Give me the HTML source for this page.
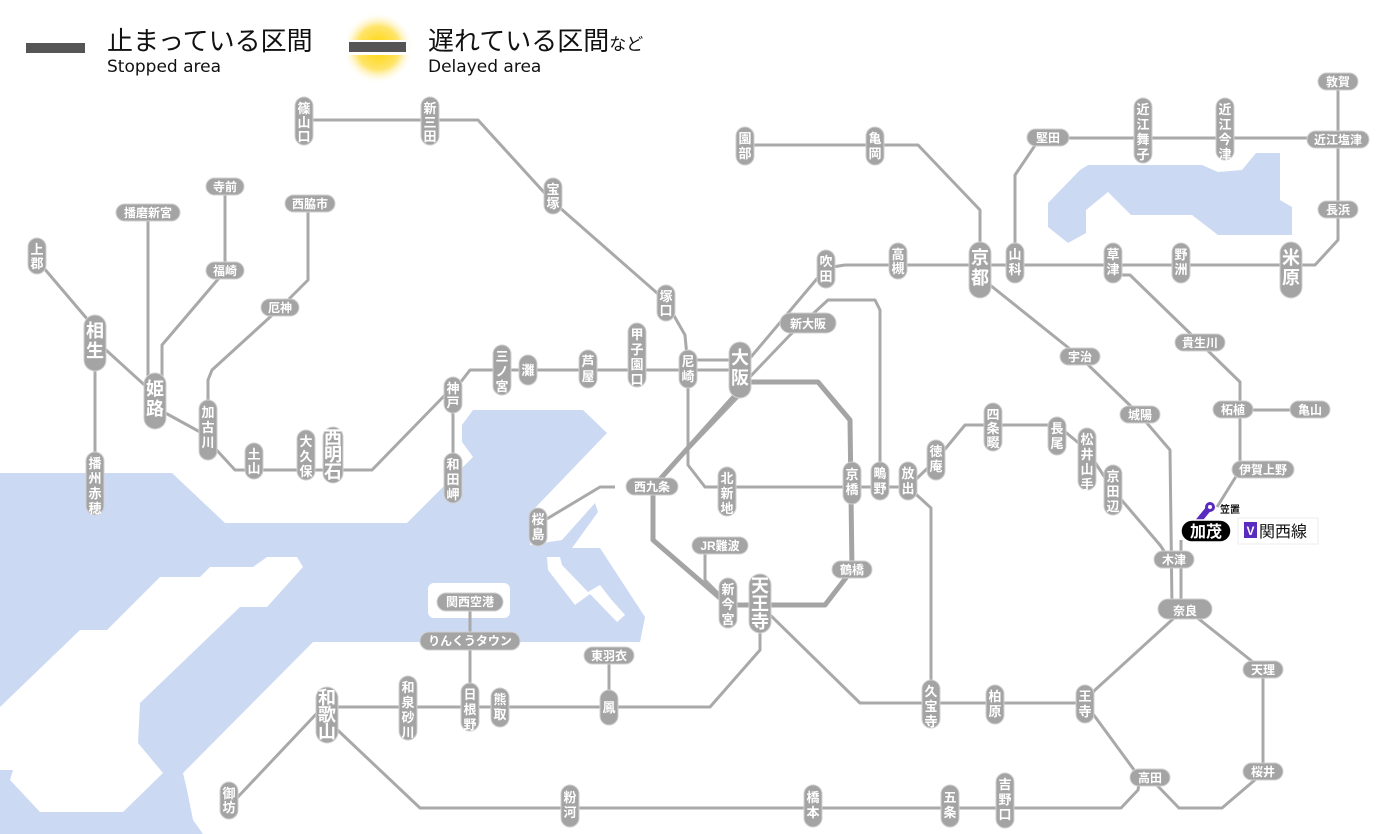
<!DOCTYPE html>
<html><head><meta charset="utf-8"><style>
html,body{margin:0;padding:0;background:#fff;}
svg{display:block;font-family:"Liberation Sans","Noto Sans CJK JP",sans-serif;}
.l{fill:none;stroke:#a9a9a9;stroke-width:3;stroke-linejoin:round;}
.t{fill:none;stroke:#a4a4a4;stroke-width:5;stroke-linejoin:round;}
.p{fill:#a4a4a4;stroke:#d0d0d0;stroke-width:1;}
.v{fill:#fff;font-size:13px;text-anchor:middle;font-weight:bold;}
.V{fill:#fff;font-size:18px;text-anchor:middle;font-weight:bold;}
.h{fill:#fff;font-size:12px;text-anchor:middle;font-weight:bold;}
</style></head><body>
<svg width="1400" height="834" viewBox="0 0 1400 834" xmlns="http://www.w3.org/2000/svg">
<defs><radialGradient id="g"><stop offset="0" stop-color="#ffd400"/><stop offset="0.6" stop-color="#ffe46a"/><stop offset="1" stop-color="#fff" stop-opacity="0"/></radialGradient></defs>
<g fill="#cbd9f3">
<polygon points="0,473 172,473 225,523 407,523 473,457 462,442 462,425 473,410 583,410 607,433 535,508 530,545 562,540 595,503 598,512 572,548 600,548 645,617 640,642 360,642 313,642 183,773 187,790 193,820 203,834 0,834"/>
<polygon points="1088,165 1202,165 1218,172 1242,170 1256,153 1280,153 1280,200 1292,207 1292,235 1218,235 1192,215 1131,215 1108,192 1086,210 1086,233 1068,243 1048,227 1048,203 1080,170"/>
</g>
<g fill="#fff">
<polygon points="0,707 80,630 107,630 160,577 200,577 210,567 253,567 267,557 297,557 303,567 267,607 240,607 140,703 138,743 163,773 123,812 40,812 10,780 13,770 0,770"/>
<rect x="428" y="583" width="82" height="35" rx="6"/>
<polygon points="547,557 560,557 562,565 588,592 600,585 610,598 625,615 617,622 590,594 575,605 548,570"/>
</g>
<rect x="26" y="43" width="59" height="10" fill="#555"/>
<text x="107" y="50" font-size="26" fill="#111">止まっている区間</text>
<text x="107" y="72" font-size="17" fill="#111" font-family="DejaVu Sans, sans-serif">Stopped area</text>
<circle cx="378" cy="48" r="36" fill="url(#g)"/>
<rect x="346" y="40" width="63" height="15" fill="#fff"/>
<rect x="349" y="42" width="57" height="10" fill="#555"/>
<text x="428" y="50" font-size="26" fill="#111">遅れている区間<tspan font-size="17">など</tspan></text>
<text x="428" y="72" font-size="17" fill="#111" font-family="DejaVu Sans, sans-serif">Delayed area</text>
<g class="l">
<polyline points="304,120 478,120 551,200 665,300 685,335 688,368 688,465 705,487 852,487 908,487"/>
<polyline points="37,260 88,320 95,330"/>
<polyline points="95,340 150,390 160,410 200,432 235,470 372,470 445,395 453,392 470,370 740,370"/>
<polyline points="688,360 740,360"/>
<polyline points="450,398 453,415 453,460"/>
<polyline points="95,340 95,460"/>
<polyline points="148,213 148,390"/>
<polyline points="225,187 225,271 162,345 162,390"/>
<polyline points="308,204 308,280 280,308 212,370 208,380 208,430"/>
<polyline points="740,370 826,268 845,265 1291,265 1315,265 1338,240 1338,82"/>
<polyline points="745,382 790,335 828,300 875,300 880,310 880,487"/>
<polyline points="1015,265 1015,175 1040,138 1338,138"/>
<polyline points="745,145 918,145 980,210 980,265"/>
<polyline points="990,285 1080,357 1140,415 1170,450 1172,607"/>
<polyline points="1113,275 1130,275 1200,343 1240,382 1240,470 1217,507"/>
<polyline points="1240,410 1310,410"/>
<polyline points="1181,540 1181,607"/>
<polyline points="1113,490 1160,545 1170,560"/>
<polyline points="908,487 936,460 965,425 1057,425 1087,450 1113,490"/>
<polyline points="908,487 931,508 931,703"/>
<polyline points="1185,608 1263,670 1263,773 1222,808 1179,808 1150,778"/>
<polyline points="1185,608 1095,690 1085,703 1140,778"/>
<polyline points="760,605 860,703 1085,703"/>
<polyline points="760,630 760,650 710,707 327,707"/>
<polyline points="609,656 609,707"/>
<polyline points="470,602 470,707"/>
<polyline points="320,710 235,800"/>
<polyline points="327,720 420,808 1121,808 1138,790 1140,778"/>
<polyline points="615,487 600,487 545,520"/>
<polyline points="705,546 705,580 725,600 728,605"/>
<polyline points="652,487 740,395"/>
<polyline points="740,358 745,350"/>
</g>
<g class="t">
<polyline points="745,382 818,382 850,420 852,570 825,605 728,605 653,540 653,487 740,390"/>
</g>
<g>
<rect class="p" x="295" y="97" width="18" height="48" rx="9"/><text class="v" x="304" y="113">篠<tspan x="304" dy="14">山</tspan><tspan x="304" dy="14">口</tspan></text>
<rect class="p" x="421" y="97" width="18" height="48" rx="9"/><text class="v" x="430" y="113">新<tspan x="430" dy="14">三</tspan><tspan x="430" dy="14">田</tspan></text>
<rect class="p" x="544" y="178" width="18" height="36" rx="9"/><text class="v" x="553" y="194">宝<tspan x="553" dy="14">塚</tspan></text>
<rect class="p" x="657" y="285" width="18" height="36" rx="9"/><text class="v" x="666" y="301">塚<tspan x="666" dy="14">口</tspan></text>
<rect class="p" x="28" y="238" width="18" height="36" rx="9"/><text class="v" x="37" y="254">上<tspan x="37" dy="14">郡</tspan></text>
<rect class="p" x="84" y="315" width="22" height="56" rx="11"/><text class="V" x="95" y="337">相<tspan x="95" dy="20">生</tspan></text>
<rect class="p" x="144" y="373" width="22" height="56" rx="11"/><text class="V" x="155" y="395">姫<tspan x="155" dy="20">路</tspan></text>
<rect class="p" x="199" y="400" width="18" height="60" rx="9"/><text class="v" x="208" y="417">加<tspan x="208" dy="15">古</tspan><tspan x="208" dy="15">川</tspan></text>
<rect class="p" x="245" y="443" width="18" height="36" rx="9"/><text class="v" x="254" y="459">土<tspan x="254" dy="14">山</tspan></text>
<rect class="p" x="297" y="430" width="18" height="50" rx="9"/><text class="v" x="306" y="446">大<tspan x="306" dy="15">久</tspan><tspan x="306" dy="15">保</tspan></text>
<rect class="p" x="323" y="427" width="20" height="56" rx="10"/><text class="V" x="333" y="444" font-size="16">西<tspan x="333" dy="17">明</tspan><tspan x="333" dy="17">石</tspan></text>
<rect class="p" x="444" y="377" width="18" height="36" rx="9"/><text class="v" x="453" y="393">神<tspan x="453" dy="14">戸</tspan></text>
<rect class="p" x="493" y="345" width="18" height="50" rx="9"/><text class="v" x="502" y="361">三<tspan x="502" dy="15">ノ</tspan><tspan x="502" dy="15">宮</tspan></text>
<rect class="p" x="519" y="355" width="18" height="30" rx="9"/><text class="v" x="528" y="375">灘</text>
<rect class="p" x="579" y="350" width="18" height="38" rx="9"/><text class="v" x="588" y="366">芦<tspan x="588" dy="15">屋</tspan></text>
<rect class="p" x="628" y="323" width="18" height="64" rx="9"/><text class="v" x="637" y="339">甲<tspan x="637" dy="15">子</tspan><tspan x="637" dy="15">園</tspan><tspan x="637" dy="15">口</tspan></text>
<rect class="p" x="679" y="350" width="18" height="38" rx="9"/><text class="v" x="688" y="366">尼<tspan x="688" dy="15">崎</tspan></text>
<rect class="p" x="729" y="342" width="22" height="56" rx="11"/><text class="V" x="740" y="364">大<tspan x="740" dy="20">阪</tspan></text>
<rect class="p" x="444" y="453" width="18" height="50" rx="9"/><text class="v" x="453" y="469">和<tspan x="453" dy="15">田</tspan><tspan x="453" dy="15">岬</tspan></text>
<rect class="p" x="86" y="452" width="18" height="63" rx="9"/><text class="v" x="95" y="468">播<tspan x="95" dy="15">州</tspan><tspan x="95" dy="15">赤</tspan><tspan x="95" dy="15">穂</tspan></text>
<rect class="p" x="718" y="467" width="18" height="49" rx="9"/><text class="v" x="727" y="483">北<tspan x="727" dy="15">新</tspan><tspan x="727" dy="15">地</tspan></text>
<rect class="p" x="843" y="462" width="18" height="42" rx="9"/><text class="v" x="852" y="479">京<tspan x="852" dy="15">橋</tspan></text>
<rect class="p" x="871" y="462" width="18" height="38" rx="9"/><text class="v" x="880" y="478">鴫<tspan x="880" dy="15">野</tspan></text>
<rect class="p" x="899" y="462" width="18" height="38" rx="9"/><text class="v" x="908" y="478">放<tspan x="908" dy="15">出</tspan></text>
<rect class="p" x="927" y="440" width="18" height="40" rx="9"/><text class="v" x="936" y="456">徳<tspan x="936" dy="15">庵</tspan></text>
<rect class="p" x="984" y="403" width="18" height="48" rx="9"/><text class="v" x="993" y="419">四<tspan x="993" dy="14">条</tspan><tspan x="993" dy="14">畷</tspan></text>
<rect class="p" x="1048" y="417" width="18" height="38" rx="9"/><text class="v" x="1057" y="433">長<tspan x="1057" dy="15">尾</tspan></text>
<rect class="p" x="1078" y="428" width="18" height="62" rx="9"/><text class="v" x="1087" y="444">松<tspan x="1087" dy="15">井</tspan><tspan x="1087" dy="15">山</tspan><tspan x="1087" dy="15">手</tspan></text>
<rect class="p" x="1104" y="465" width="18" height="50" rx="9"/><text class="v" x="1113" y="481">京<tspan x="1113" dy="15">田</tspan><tspan x="1113" dy="15">辺</tspan></text>
<rect class="p" x="719" y="578" width="18" height="50" rx="9"/><text class="v" x="728" y="594">新<tspan x="728" dy="15">今</tspan><tspan x="728" dy="15">宮</tspan></text>
<rect class="p" x="749" y="574" width="22" height="59" rx="11"/><text class="V" x="760" y="592" font-size="17">天<tspan x="760" dy="18">王</tspan><tspan x="760" dy="18">寺</tspan></text>
<rect class="p" x="529" y="508" width="18" height="38" rx="9"/><text class="v" x="538" y="524">桜<tspan x="538" dy="15">島</tspan></text>
<rect class="p" x="316" y="687" width="22" height="56" rx="11"/><text class="V" x="327" y="704" font-size="16">和<tspan x="327" dy="17">歌</tspan><tspan x="327" dy="17">山</tspan></text>
<rect class="p" x="399" y="676" width="18" height="64" rx="9"/><text class="v" x="408" y="692">和<tspan x="408" dy="15">泉</tspan><tspan x="408" dy="15">砂</tspan><tspan x="408" dy="15">川</tspan></text>
<rect class="p" x="461" y="683" width="18" height="48" rx="9"/><text class="v" x="470" y="699">日<tspan x="470" dy="15">根</tspan><tspan x="470" dy="15">野</tspan></text>
<rect class="p" x="491" y="688" width="18" height="39" rx="9"/><text class="v" x="500" y="704">熊<tspan x="500" dy="15">取</tspan></text>
<rect class="p" x="600" y="690" width="18" height="35" rx="9"/><text class="v" x="609" y="712">鳳</text>
<rect class="p" x="220" y="782" width="18" height="37" rx="9"/><text class="v" x="229" y="798">御<tspan x="229" dy="14">坊</tspan></text>
<rect class="p" x="561" y="785" width="18" height="42" rx="9"/><text class="v" x="570" y="802">粉<tspan x="570" dy="15">河</tspan></text>
<rect class="p" x="804" y="785" width="18" height="42" rx="9"/><text class="v" x="813" y="802">橋<tspan x="813" dy="15">本</tspan></text>
<rect class="p" x="941" y="785" width="18" height="42" rx="9"/><text class="v" x="950" y="802">五<tspan x="950" dy="15">条</tspan></text>
<rect class="p" x="996" y="773" width="18" height="55" rx="9"/><text class="v" x="1005" y="789">吉<tspan x="1005" dy="15">野</tspan><tspan x="1005" dy="15">口</tspan></text>
<rect class="p" x="922" y="680" width="18" height="48" rx="9"/><text class="v" x="931" y="696">久<tspan x="931" dy="15">宝</tspan><tspan x="931" dy="15">寺</tspan></text>
<rect class="p" x="986" y="685" width="18" height="39" rx="9"/><text class="v" x="995" y="701">柏<tspan x="995" dy="15">原</tspan></text>
<rect class="p" x="1076" y="685" width="18" height="38" rx="9"/><text class="v" x="1085" y="701">王<tspan x="1085" dy="15">寺</tspan></text>
<rect class="p" x="736" y="127" width="18" height="38" rx="9"/><text class="v" x="745" y="143">園<tspan x="745" dy="15">部</tspan></text>
<rect class="p" x="866" y="127" width="18" height="38" rx="9"/><text class="v" x="875" y="143">亀<tspan x="875" dy="15">岡</tspan></text>
<rect class="p" x="969" y="242" width="22" height="56" rx="11"/><text class="V" x="980" y="264">京<tspan x="980" dy="20">都</tspan></text>
<rect class="p" x="1006" y="243" width="18" height="40" rx="9"/><text class="v" x="1015" y="259">山<tspan x="1015" dy="15">科</tspan></text>
<rect class="p" x="889" y="243" width="18" height="36" rx="9"/><text class="v" x="898" y="259">高<tspan x="898" dy="14">槻</tspan></text>
<rect class="p" x="817" y="250" width="18" height="38" rx="9"/><text class="v" x="826" y="266">吹<tspan x="826" dy="15">田</tspan></text>
<rect class="p" x="1104" y="243" width="18" height="40" rx="9"/><text class="v" x="1113" y="259">草<tspan x="1113" dy="15">津</tspan></text>
<rect class="p" x="1172" y="243" width="18" height="40" rx="9"/><text class="v" x="1181" y="259">野<tspan x="1181" dy="15">洲</tspan></text>
<rect class="p" x="1280" y="242" width="22" height="56" rx="11"/><text class="V" x="1291" y="264">米<tspan x="1291" dy="20">原</tspan></text>
<rect class="p" x="1134" y="98" width="18" height="65" rx="9"/><text class="v" x="1143" y="114">近<tspan x="1143" dy="15">江</tspan><tspan x="1143" dy="15">舞</tspan><tspan x="1143" dy="15">子</tspan></text>
<rect class="p" x="1216" y="98" width="18" height="62" rx="9"/><text class="v" x="1225" y="114">近<tspan x="1225" dy="15">江</tspan><tspan x="1225" dy="15">今</tspan><tspan x="1225" dy="15">津</tspan></text>
</g>
<g>
<rect class="p" x="206" y="178" width="38" height="17" rx="8.5"/><text class="h" x="225" y="191">寺前</text>
<rect class="p" x="116" y="204" width="64" height="17" rx="8.5"/><text class="h" x="148" y="217">播磨新宮</text>
<rect class="p" x="285" y="195" width="50" height="17" rx="8.5"/><text class="h" x="310" y="208">西脇市</text>
<rect class="p" x="206" y="262" width="38" height="17" rx="8.5"/><text class="h" x="225" y="275">福崎</text>
<rect class="p" x="261" y="299" width="38" height="17" rx="8.5"/><text class="h" x="280" y="312">厄神</text>
<rect class="p" x="626" y="478" width="52" height="17" rx="8.5"/><text class="h" x="652" y="491">西九条</text>
<rect class="p" x="780" y="313" width="56" height="20" rx="10"/><text class="h" x="808" y="328" font-size="14">新大阪</text>
<rect class="p" x="692" y="537" width="56" height="17" rx="8.5"/><text class="h" x="720" y="550">JR難波</text>
<rect class="p" x="832" y="561" width="40" height="17" rx="8.5"/><text class="h" x="852" y="574">鶴橋</text>
<rect class="p" x="584" y="647" width="50" height="17" rx="8.5"/><text class="h" x="609" y="660">東羽衣</text>
<rect class="p" x="437" y="593" width="66" height="18" rx="9"/><text class="h" x="470" y="606">関西空港</text>
<rect class="p" x="420" y="632" width="100" height="18" rx="9"/><text class="h" x="470" y="645">りんくうタウン</text>
<rect class="p" x="1060" y="348" width="40" height="17" rx="8.5"/><text class="h" x="1080" y="361">宇治</text>
<rect class="p" x="1120" y="406" width="40" height="17" rx="8.5"/><text class="h" x="1140" y="419">城陽</text>
<rect class="p" x="1175" y="334" width="50" height="17" rx="8.5"/><text class="h" x="1200" y="347">貴生川</text>
<rect class="p" x="1213" y="401" width="40" height="17" rx="8.5"/><text class="h" x="1233" y="414">柘植</text>
<rect class="p" x="1290" y="401" width="40" height="17" rx="8.5"/><text class="h" x="1310" y="414">亀山</text>
<rect class="p" x="1232" y="461" width="62" height="17" rx="8.5"/><text class="h" x="1263" y="474">伊賀上野</text>
<rect class="p" x="1130" y="769" width="40" height="17" rx="8.5"/><text class="h" x="1150" y="782">高田</text>
<rect class="p" x="1243" y="661" width="40" height="17" rx="8.5"/><text class="h" x="1263" y="674">天理</text>
<rect class="p" x="1243" y="763" width="40" height="17" rx="8.5"/><text class="h" x="1263" y="776">桜井</text>
<rect class="p" x="1158" y="599" width="54" height="20" rx="10"/><text class="h" x="1185" y="615" font-size="15">奈良</text>
<rect class="p" x="1154" y="551" width="40" height="17" rx="8.5"/><text class="h" x="1174" y="564">木津</text>
<rect class="p" x="1318" y="73" width="40" height="17" rx="8.5"/><text class="h" x="1338" y="86">敦賀</text>
<rect class="p" x="1307" y="131" width="62" height="17" rx="8.5"/><text class="h" x="1338" y="144">近江塩津</text>
<rect class="p" x="1318" y="201" width="40" height="17" rx="8.5"/><text class="h" x="1338" y="214">長浜</text>
<rect class="p" x="1027" y="129" width="42" height="17" rx="8.5"/><text class="h" x="1048" y="142">堅田</text>
</g>
<line x1="1196" y1="524" x2="1210" y2="507" stroke="#5a2bbf" stroke-width="6" stroke-linecap="round"/>
<circle cx="1210" cy="507" r="5" fill="#5a2bbf"/><circle cx="1210" cy="507" r="2" fill="#fff"/>
<text x="1220" y="513" font-size="10" font-weight="bold" fill="#111">笠置</text>
<rect x="1181" y="520" width="50" height="22" rx="11" fill="#000" stroke="#fff" stroke-width="1.5"/>
<text x="1206" y="537" font-size="16" font-weight="bold" fill="#fff" text-anchor="middle">加茂</text>
<rect x="1238" y="518" width="80" height="26" fill="#fff" stroke="#eee" stroke-width="1"/>
<rect x="1244" y="522" width="13" height="16" fill="#5a2bbf"/>
<text x="1250.5" y="535" font-size="12" font-weight="bold" fill="#fff" text-anchor="middle">V</text>
<text x="1259" y="537" font-size="16" fill="#111">関西線</text>
</svg>
</body></html>
